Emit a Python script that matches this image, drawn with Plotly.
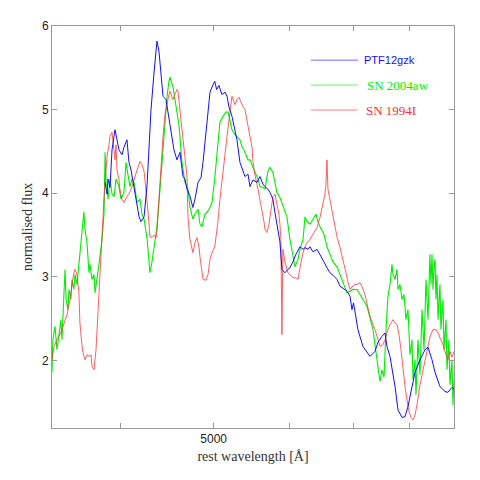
import plotly.graph_objects as go

# ---- data (rest wavelength in Angstrom, normalised flux) ----
ptf_wave = [3850,3868,3877,3896,3915,3943,3962,3981,4010,4029,4058,4078,4098,4128,4158,4178,4198,4229,4260,4280,
            4300,4331,4352,4362,4383,4405,4426,4458,4479,4500,4522,4544,4577,4610,4644,4666,4689,4722,4756,4780,
            4815,4850,4873,4908,4932,4956,4980,5012,5036,5064,5100,5138,5163,5188,5225,5263,5288,5326,5365,5391,
            5430,5456,5496,5549,5589,5629,5656,5697,5725,5766,5794,5836,5864,5892,5935,5978,6007,6050,6094,6154,
            6199,6229,6274,6304,6350,6411,6457,6519,6567,6614,6663,6727,6776,6842,6891,6941,6974,7000,7075,7160,
            7230,7283,7371,7425,7496,7551,7587,7642,7735,7791,7866,7923,7980,8058,8116,8214,8314,8374,8455,8516,
            8618,8723,8786,8871,8914]
ptf_flux = [4.13,3.99,4.17,4.07,4.52,4.76,4.64,4.52,4.46,4.55,4.64,4.37,4.28,4.08,3.87,3.72,3.66,3.72,4.11,4.61,
            5.00,5.44,5.72,5.82,5.70,5.42,5.16,5.12,4.97,4.85,4.70,4.52,4.40,4.49,4.20,4.17,4.05,3.97,3.83,3.93,
            4.13,4.19,4.37,4.76,5.03,5.21,5.27,5.34,5.24,5.29,5.18,5.21,5.16,5.03,4.92,4.76,4.64,4.37,4.26,4.20,
            4.23,4.08,4.16,4.13,4.20,4.11,4.08,4.05,4.01,3.93,3.77,3.57,3.42,3.09,3.05,3.09,3.11,3.18,3.27,3.36,
            3.33,3.35,3.33,3.36,3.30,3.33,3.27,3.18,3.11,3.05,3.02,2.97,2.89,2.85,2.83,2.77,2.61,2.69,2.37,2.17,
            2.10,2.05,2.11,2.22,2.29,2.33,2.17,2.05,1.69,1.41,1.32,1.33,1.45,1.69,1.86,2.01,2.13,2.16,2.01,1.86,
            1.69,1.63,1.62,1.68,1.66]

sn04aw_wave = [3388,3396,3413,3429,3446,3462,3471,3488,3496,3505,3521,3530,3546,3555,3572,3581,3598,3615,3624,3641,
               3659,3668,3686,3704,3713,3731,3749,3758,3776,3794,3822,3840,3850,3859,3868,3877,3896,3915,3934,3953,
               3981,4000,4029,4049,4068,4088,4108,4128,4158,4187,4208,4229,4260,4280,4289,4310,4341,4362,4394,4415,
               4447,4469,4490,4500,4522,4533,4555,4577,4599,4610,4632,4666,4700,4722,4756,4780,4815,4838,4861,4896,
               4920,4956,4980,5012,5036,5076,5113,5150,5175,5200,5225,5263,5288,5326,5352,5391,5430,5456,5496,5522,
               5562,5589,5629,5656,5697,5725,5766,5794,5822,5864,5892,5935,5963,6007,6050,6080,6124,6154,6199,6229,
               6259,6304,6350,6396,6426,6457,6519,6567,6614,6663,6727,6776,6842,6891,6941,6991,7058,7110,7160,7230,
               7283,7336,7371,7407,7443,7460,7496,7533,7569,7605,7642,7679,7697,7735,7772,7791,7828,7866,7904,7942,
               7980,8019,8058,8077,8116,8135,8174,8214,8254,8294,8334,8374,8413,8434,8455,8475,8496,8516,8536,8557,
               8578,8618,8639,8681,8702,8744,8765,8807,8828,8871,8892,8914]
sn04aw_flux = [1.86,2.25,2.41,2.13,2.31,2.49,2.25,2.73,3.09,2.73,2.61,2.85,2.73,2.97,2.85,3.03,2.91,3.15,3.27,3.53,
               3.78,3.57,3.41,3.05,3.15,2.97,3.03,2.81,2.97,3.15,3.45,3.75,4.49,4.11,4.08,3.93,4.17,3.99,3.96,4.17,
               4.08,3.93,4.01,4.37,4.22,4.08,4.17,4.13,3.89,3.93,3.75,3.69,3.45,3.09,3.05,3.18,3.45,3.60,4.05,4.37,
               4.88,5.16,5.34,5.39,5.31,5.28,5.12,4.97,4.82,4.68,4.37,4.13,4.05,3.84,3.69,3.75,3.81,3.63,3.60,3.75,
               3.77,3.83,3.89,4.17,4.44,4.85,4.92,4.97,4.97,4.88,4.76,4.70,4.68,4.64,4.56,4.49,4.40,4.40,4.31,4.25,
               4.17,4.08,4.07,4.05,4.26,4.31,4.25,4.13,4.01,3.95,3.89,3.78,3.72,3.45,3.27,3.12,3.21,3.33,3.45,3.72,
               3.66,3.63,3.69,3.75,3.66,3.60,3.51,3.36,3.27,3.18,3.12,3.03,2.91,2.81,2.83,2.85,2.85,2.79,2.73,2.65,
               2.51,2.37,2.19,2.01,1.83,1.75,1.89,1.80,2.37,2.77,2.91,3.15,3.03,2.97,3.09,2.85,2.91,2.73,2.79,2.49,
               2.61,2.07,2.25,1.77,2.01,1.59,2.25,1.83,2.61,2.13,2.97,2.49,3.27,2.91,3.27,2.85,3.11,3.21,2.73,3.03,
               2.49,2.91,2.37,2.73,2.13,2.49,1.89,2.25,1.71,2.01,1.47,1.77]

sn94i_wave = [3388,3404,3429,3446,3471,3496,3513,3538,3555,3572,3581,3598,3615,3624,3641,3650,3668,3686,3704,3722,
              3731,3749,3767,3776,3794,3813,3822,3840,3850,3868,3887,3896,3915,3934,3943,3953,3962,3981,3990,4010,
              4029,4058,4088,4108,4138,4158,4187,4208,4229,4249,4260,4280,4289,4310,4331,4352,4362,4383,4405,4426,
              4447,4469,4490,4500,4522,4533,4555,4577,4588,4610,4632,4644,4666,4689,4700,4722,4756,4780,4803,4827,
              4838,4861,4873,4908,4932,4956,4980,5012,5036,5048,5076,5100,5138,5163,5188,5213,5225,5250,5263,5288,
              5313,5326,5352,5391,5417,5456,5483,5496,5522,5562,5589,5616,5643,5656,5684,5711,5739,5766,5794,5822,
              5850,5864,5878,5892,5906,5935,5978,6007,6050,6094,6124,6154,6199,6244,6304,6365,6411,6457,6488,6519,
              6535,6551,6567,6582,6614,6646,6679,6711,6727,6776,6825,6874,6907,6941,6974,7024,7058,7110,7143,7195,
              7248,7283,7336,7371,7425,7460,7514,7551,7605,7642,7697,7735,7772,7809,7847,7885,7923,7961,8000,8038,
              8077,8116,8155,8214,8254,8314,8354,8413,8475,8536,8578,8639,8681,8744,8786,8828,8871,8914]
sn94i_flux = [2.01,2.16,2.25,2.29,2.37,2.49,2.55,2.73,2.91,3.05,3.09,3.03,2.81,2.45,2.19,2.10,2.01,2.07,2.05,2.07,
              1.93,1.89,2.13,2.37,2.89,3.21,3.45,3.93,4.11,4.44,4.58,4.68,4.73,4.49,4.40,4.58,4.28,4.16,4.05,3.93,
              3.89,3.96,4.02,4.08,4.22,4.28,4.38,4.34,4.26,4.05,3.89,3.63,3.48,3.47,3.50,3.47,3.54,3.93,4.34,4.68,
              4.94,5.09,5.18,5.22,5.15,5.12,5.18,5.24,5.22,5.00,4.82,4.68,4.44,4.20,3.72,3.45,3.29,3.41,3.47,3.35,
              3.24,3.09,2.97,2.96,3.03,3.21,3.29,3.36,3.51,3.63,3.93,4.16,4.46,4.68,4.88,5.09,5.16,5.09,5.06,5.12,
              5.15,5.12,5.06,5.00,4.88,4.68,4.55,4.37,4.22,4.05,3.93,3.81,3.66,3.57,3.53,3.63,3.78,3.96,3.99,3.87,
              3.75,3.63,3.45,2.31,3.33,3.18,3.05,3.03,2.99,2.99,2.97,3.11,3.29,3.39,3.45,3.53,3.59,3.71,3.83,3.93,
              3.99,4.11,4.40,4.05,3.93,3.81,3.66,3.57,3.48,3.35,3.21,3.05,2.94,2.85,2.88,2.91,2.91,2.93,2.89,2.79,
              2.63,2.53,2.43,2.37,2.25,2.17,2.19,2.25,2.37,2.43,2.49,2.45,2.43,2.31,2.13,1.89,1.69,1.53,1.39,1.32,
              1.29,1.35,1.47,1.71,1.83,2.01,2.13,2.28,2.37,2.37,2.33,2.25,2.19,2.07,2.01,2.11,2.04,2.11]

names = ["PTF12gzk", "SN 2004aw", "SN 1994I"]
colors = ["#1010ff", "#00ee00", "#ff3030"]

x_ticks = [4000, 5000, 6000, 7000, 8000]
x_ticklabels = ["", "5000", "", "", ""]
y_ticks = [2, 3, 4, 5, 6]

fig = go.Figure()
fig.add_trace(go.Scatter(x=sn04aw_wave, y=sn04aw_flux, mode="lines",
                         line=dict(color=colors[1], width=1.1), name=names[1]))
fig.add_trace(go.Scatter(x=sn94i_wave, y=sn94i_flux, mode="lines",
                         line=dict(color=colors[2], width=0.9), opacity=0.85, name=names[2]))
fig.add_trace(go.Scatter(x=ptf_wave, y=ptf_flux, mode="lines",
                         line=dict(color=colors[0], width=1.0), name=names[0]))

axis_common = dict(showline=True, linecolor="#999999", linewidth=1, mirror="ticks",
                   ticks="inside", ticklen=5, tickcolor="#999999", showgrid=False,
                   zeroline=False, tickfont=dict(family="Liberation Sans, Arial", size=12, color="#222"))

fig.update_xaxes(type="log", range=[3.5300, 3.9501], tickvals=x_ticks, ticktext=x_ticklabels,
                 title=dict(text="rest wavelength [Å]", font=dict(family="Liberation Serif, serif", size=14, color="#333"),
                            standoff=5),
                 **axis_common)
fig.update_yaxes(range=[1.194, 6.0], tickvals=y_ticks,
                 title=dict(text="normalised flux", font=dict(family="Liberation Serif, serif", size=14, color="#333"),
                            standoff=6),
                 **axis_common)

# legend drawn as short lines + coloured labels
leg_y = [0.915, 0.853, 0.791]
leg_fonts = ["Liberation Sans, Arial", "Liberation Serif, serif", "Liberation Serif, serif"]
leg_sizes = [11, 13, 13]
leg_dx = [0.771, 0.778, 0.776]
for i in range(3):
    fig.add_shape(type="line", xref="paper", yref="paper", x0=0.644, x1=0.761, y0=leg_y[i], y1=leg_y[i],
                  line=dict(color=colors[i], width=1), opacity=0.6)
    fig.add_annotation(xref="paper", yref="paper", x=leg_dx[i], y=leg_y[i], text=names[i], showarrow=False,
                       xanchor="left", yanchor="middle",
                       font=dict(family=leg_fonts[i], size=leg_sizes[i], color=colors[i]))

fig.update_layout(width=480, height=480, margin=dict(l=44, r=34, t=18, b=60),
                  paper_bgcolor="white", plot_bgcolor="white", showlegend=False)

fig.write_html("out.html")
